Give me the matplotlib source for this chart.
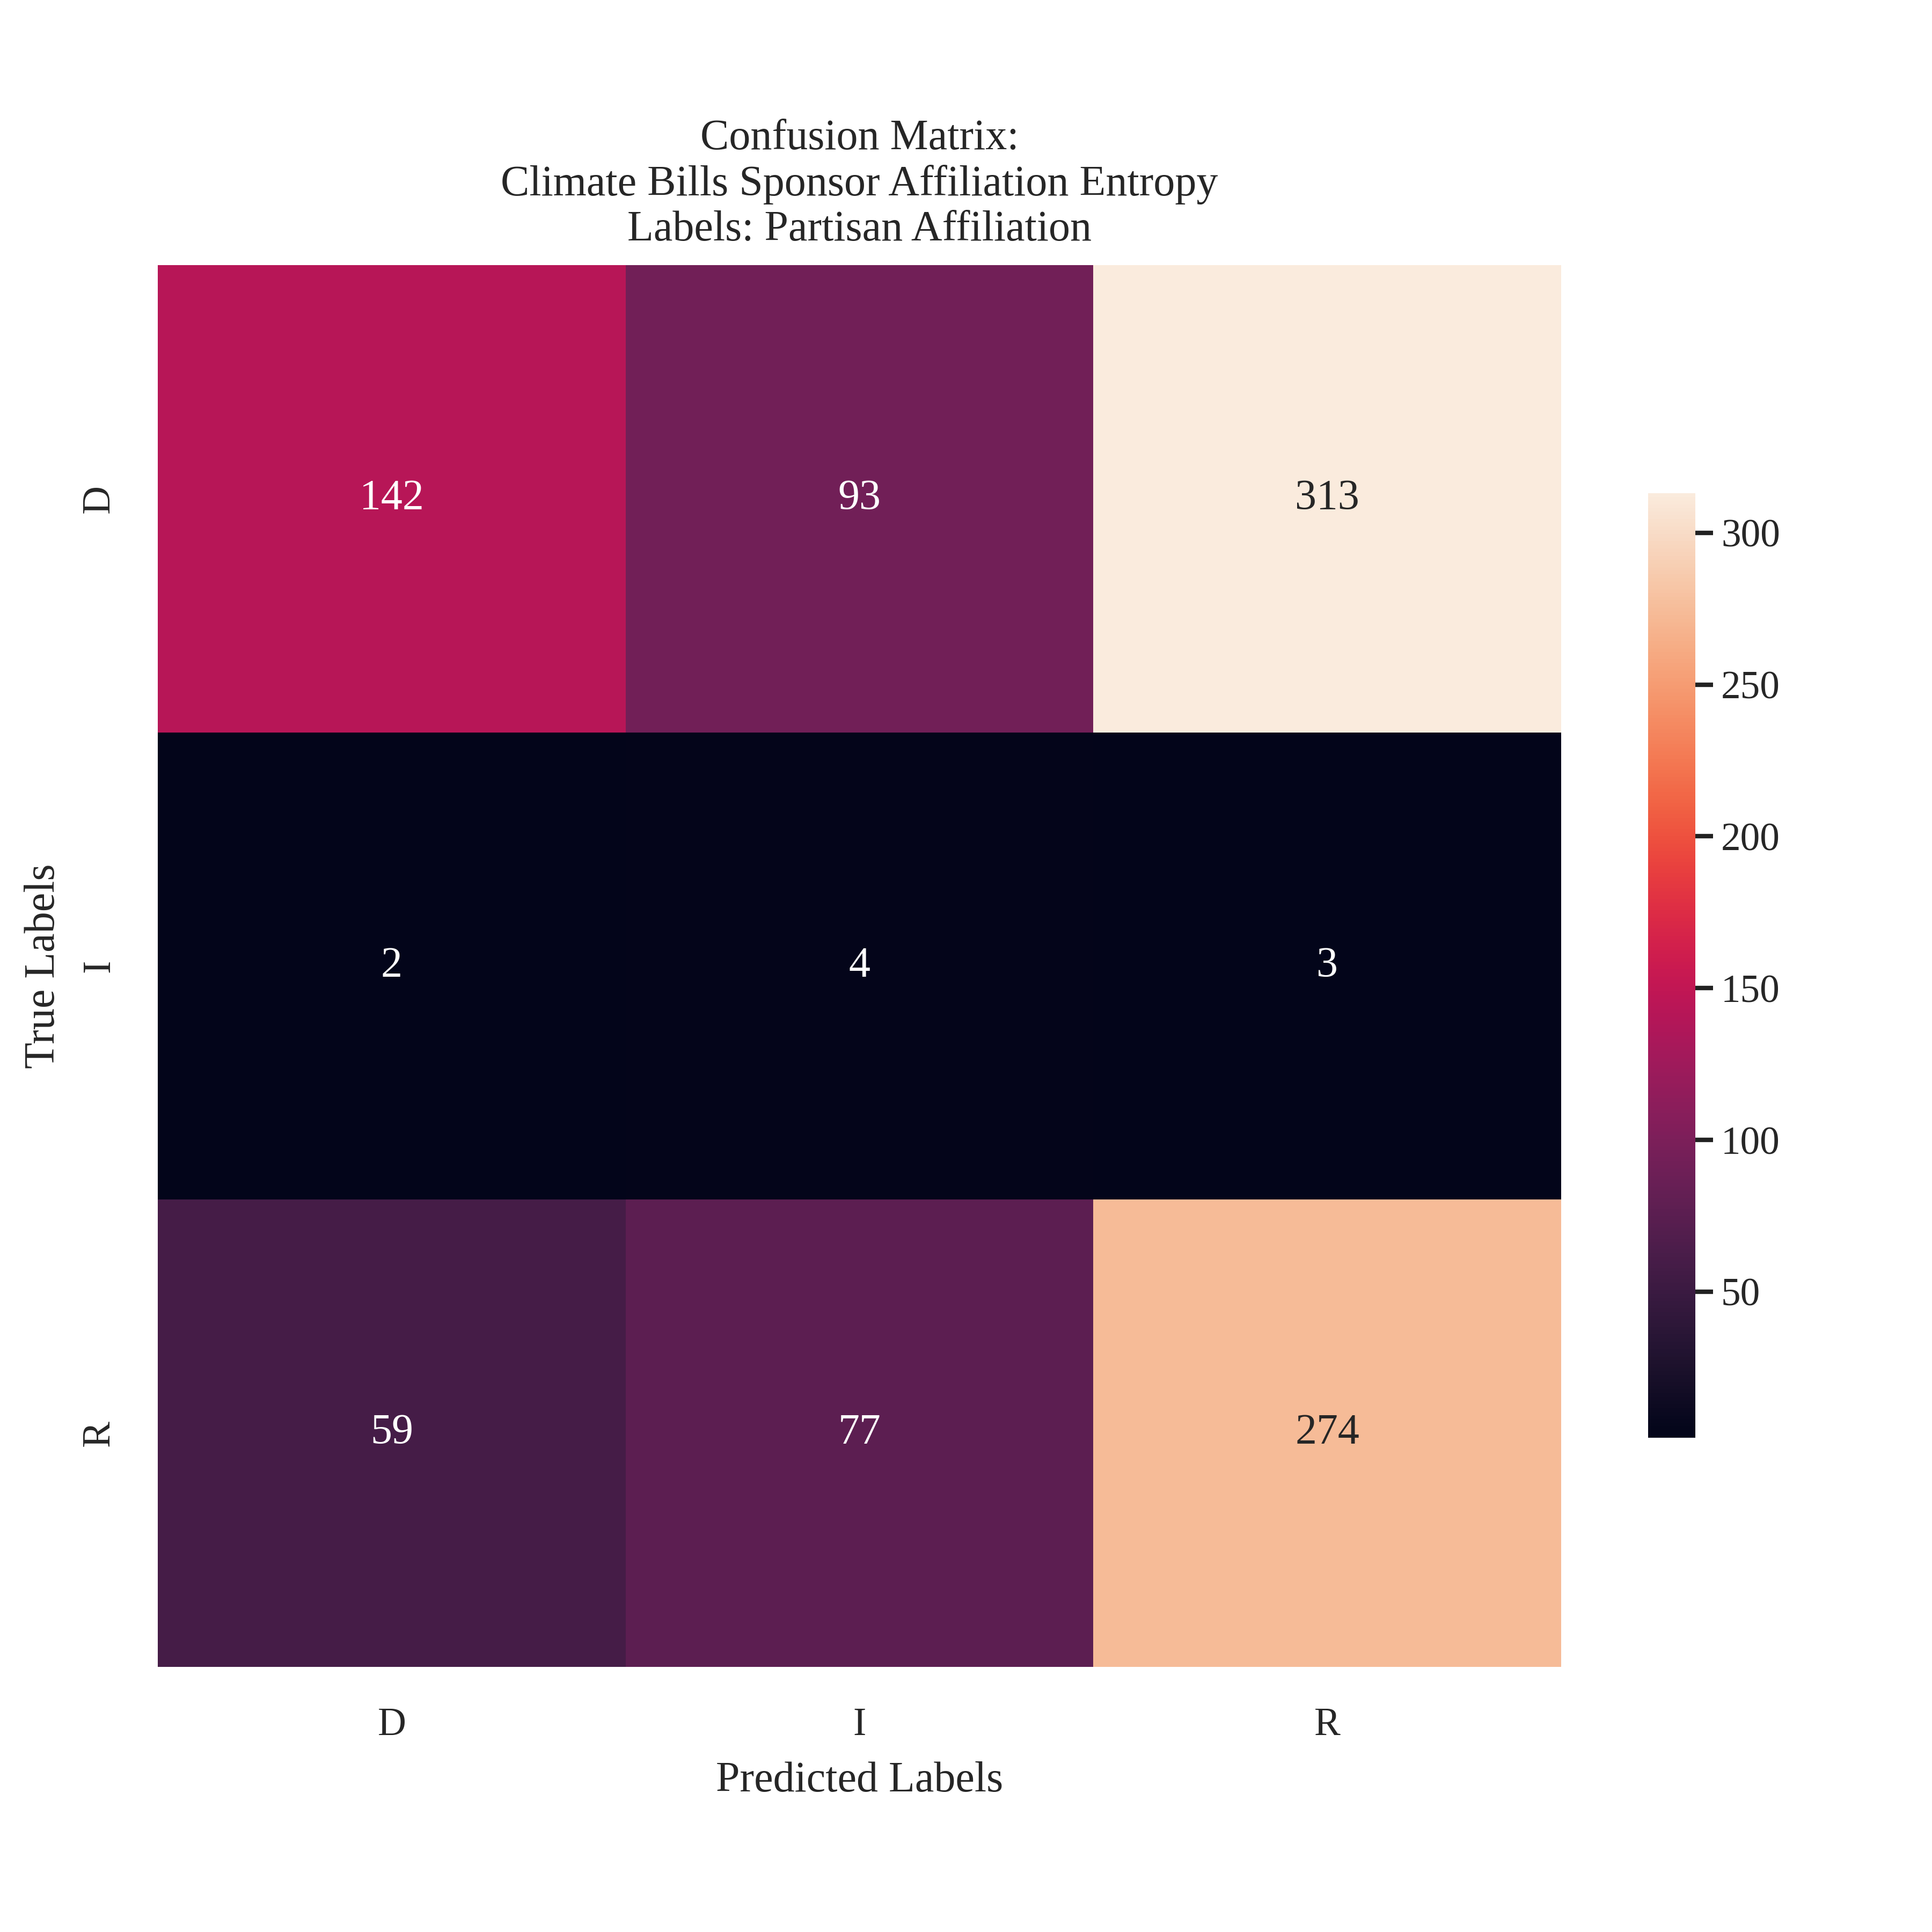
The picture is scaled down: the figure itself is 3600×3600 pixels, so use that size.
import numpy as np
import matplotlib
matplotlib.use("Agg")
import matplotlib.pyplot as plt
import seaborn as sns

labels = ["D", "I", "R"]
matrix = np.array([
    [142, 93, 313],
    [2, 4, 3],
    [59, 77, 274],
])

sns.set_theme(style="white", font_scale=1.6)
plt.rcParams['font.family'] = ['Liberation Serif', 'DejaVu Serif']

fig = plt.figure(figsize=(12, 12), dpi=300)
ax = fig.add_axes([0.0817, 0.1372, 0.7263, 0.7256])
cax = fig.add_axes([0.853, 0.2559, 0.0245, 0.4888])
sns.heatmap(matrix, annot=True, fmt="d", cmap="rocket", ax=ax, cbar_ax=cax,
            xticklabels=labels, yticklabels=labels)
cax.tick_params(length=8, width=2, color="#222222")
ax.tick_params(axis="x", pad=12)
ax.tick_params(axis="y", pad=12)
ax.set_xlabel("Predicted Labels", labelpad=8)
ax.set_ylabel("True Labels", labelpad=8)
ax.set_title("Confusion Matrix:\nClimate Bills Sponsor Affiliation Entropy\nLabels: Partisan Affiliation",
             pad=11)
fig.savefig("out.png", dpi=300)
